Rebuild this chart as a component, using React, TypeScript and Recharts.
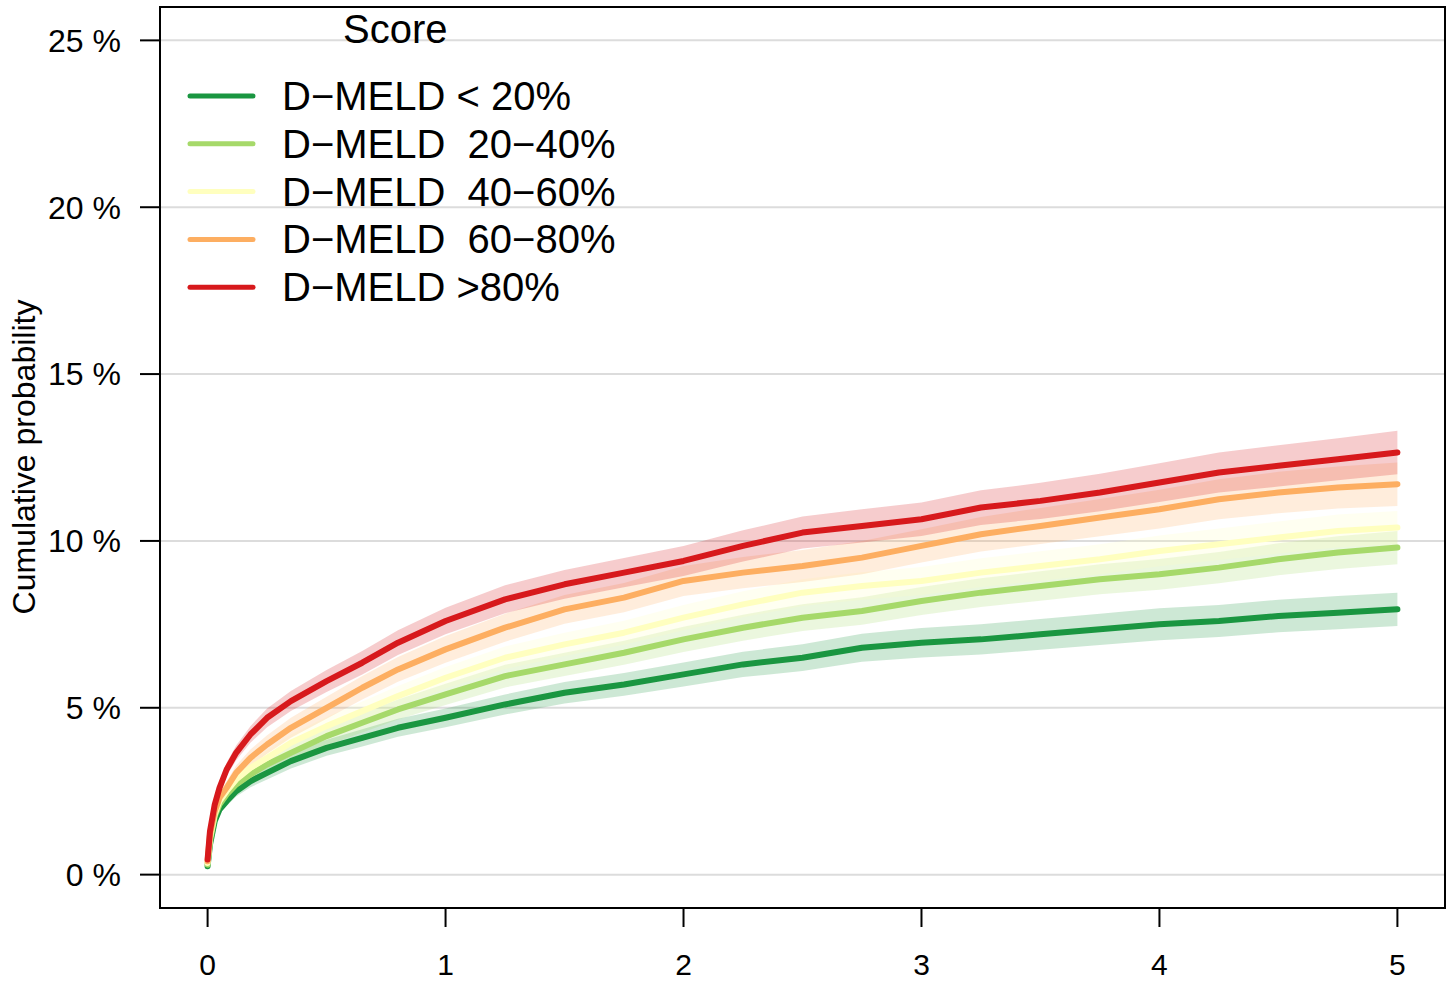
import React from 'react';
import {
  ComposedChart,
  Line,
  Area,
  XAxis,
  YAxis,
  CartesianGrid,
  ReferenceArea,
} from 'recharts';

// ---- data ----
const times = [0, 0.01, 0.03, 0.05, 0.08, 0.12, 0.18, 0.25, 0.35, 0.5, 0.65, 0.8, 1.0, 1.25, 1.5, 1.75, 2.0, 2.25, 2.5, 2.75, 3.0, 3.25, 3.5, 3.75, 4.0, 4.25, 4.5, 4.75, 5.0];

const lt20 = [0.25, 0.9, 1.6, 1.95, 2.2, 2.5, 2.8, 3.05, 3.4, 3.8, 4.1, 4.4, 4.7, 5.1, 5.45, 5.7, 6.0, 6.3, 6.5, 6.8, 6.95, 7.05, 7.2, 7.35, 7.5, 7.6, 7.75, 7.85, 7.95];
const lt20Lo = [0.25, 0.83, 1.5, 1.83, 2.06, 2.34, 2.62, 2.85, 3.18, 3.56, 3.84, 4.13, 4.42, 4.8, 5.13, 5.36, 5.64, 5.92, 6.1, 6.38, 6.51, 6.6, 6.74, 6.88, 7.02, 7.12, 7.26, 7.35, 7.45];
const lt20Hi = [0.25, 0.97, 1.7, 2.07, 2.34, 2.66, 2.98, 3.25, 3.62, 4.04, 4.36, 4.67, 4.98, 5.4, 5.77, 6.04, 6.36, 6.68, 6.9, 7.22, 7.39, 7.5, 7.66, 7.82, 7.98, 8.08, 8.24, 8.35, 8.45];

const r2040 = [0.3, 1.0, 1.75, 2.1, 2.4, 2.7, 3.0, 3.3, 3.65, 4.15, 4.55, 4.95, 5.4, 5.95, 6.3, 6.65, 7.05, 7.4, 7.7, 7.9, 8.2, 8.45, 8.65, 8.85, 9.0, 9.2, 9.45, 9.65, 9.8];
const r2040Lo = [0.3, 0.92, 1.63, 1.95, 2.23, 2.51, 2.79, 3.07, 3.4, 3.88, 4.26, 4.65, 5.08, 5.61, 5.95, 6.29, 6.67, 7.01, 7.3, 7.49, 7.78, 8.02, 8.21, 8.4, 8.54, 8.73, 8.97, 9.16, 9.3];
const r2040Hi = [0.3, 1.08, 1.87, 2.25, 2.57, 2.89, 3.21, 3.53, 3.9, 4.42, 4.84, 5.25, 5.72, 6.29, 6.65, 7.01, 7.43, 7.79, 8.1, 8.31, 8.62, 8.88, 9.09, 9.3, 9.46, 9.67, 9.93, 10.14, 10.3];

const r4060 = [0.35, 1.1, 1.8, 2.2, 2.5, 2.85, 3.2, 3.5, 3.95, 4.45, 4.9, 5.35, 5.9, 6.5, 6.9, 7.25, 7.7, 8.1, 8.45, 8.65, 8.8, 9.05, 9.25, 9.45, 9.7, 9.9, 10.1, 10.3, 10.4];
const r4060Lo = [0.35, 1.02, 1.68, 2.05, 2.33, 2.66, 2.99, 3.27, 3.7, 4.18, 4.61, 5.05, 5.58, 6.16, 6.55, 6.89, 7.32, 7.71, 8.05, 8.24, 8.38, 8.62, 8.81, 9.0, 9.24, 9.43, 9.62, 9.81, 9.9];
const r4060Hi = [0.35, 1.18, 1.92, 2.35, 2.67, 3.04, 3.41, 3.73, 4.2, 4.72, 5.19, 5.65, 6.22, 6.84, 7.25, 7.61, 8.08, 8.49, 8.85, 9.06, 9.22, 9.48, 9.69, 9.9, 10.16, 10.37, 10.58, 10.79, 10.9];

const r6080 = [0.4, 1.2, 1.9, 2.3, 2.6, 3.05, 3.5, 3.9, 4.4, 5.0, 5.6, 6.15, 6.75, 7.4, 7.95, 8.3, 8.8, 9.05, 9.25, 9.5, 9.85, 10.2, 10.45, 10.7, 10.95, 11.25, 11.45, 11.6, 11.7];
const r6080Lo = [0.4, 1.1, 1.75, 2.12, 2.4, 2.83, 3.25, 3.62, 4.1, 4.67, 5.25, 5.78, 6.35, 6.98, 7.52, 7.86, 8.35, 8.58, 8.77, 9.0, 9.35, 9.68, 9.91, 10.14, 10.37, 10.65, 10.83, 10.97, 11.05];
const r6080Hi = [0.4, 1.3, 2.05, 2.48, 2.8, 3.27, 3.75, 4.18, 4.7, 5.33, 5.95, 6.52, 7.15, 7.82, 8.38, 8.74, 9.25, 9.52, 9.73, 10.0, 10.35, 10.72, 10.99, 11.26, 11.53, 11.85, 12.07, 12.23, 12.35];

const gt80 = [0.45, 1.3, 2.1, 2.6, 3.15, 3.65, 4.2, 4.7, 5.2, 5.8, 6.35, 6.95, 7.6, 8.25, 8.7, 9.05, 9.4, 9.85, 10.25, 10.45, 10.65, 11.0, 11.2, 11.45, 11.75, 12.05, 12.25, 12.45, 12.65];
const gt80Lo = [0.45, 1.2, 1.95, 2.42, 2.95, 3.43, 3.95, 4.42, 4.9, 5.47, 6.0, 6.58, 7.2, 7.83, 8.27, 8.61, 8.95, 9.38, 9.77, 9.95, 10.15, 10.48, 10.66, 10.89, 11.17, 11.45, 11.63, 11.82, 12.0];
const gt80Hi = [0.45, 1.4, 2.25, 2.78, 3.35, 3.87, 4.45, 4.98, 5.5, 6.13, 6.7, 7.32, 8.0, 8.67, 9.13, 9.49, 9.85, 10.32, 10.73, 10.95, 11.15, 11.52, 11.74, 12.01, 12.33, 12.65, 12.87, 13.08, 13.3];

const seriesNames = ['D\u2212MELD < 20%', 'D\u2212MELD  20\u221240%', 'D\u2212MELD  40\u221260%', 'D\u2212MELD  60\u221280%', 'D\u2212MELD >80%'];
const seriesColors = ['#1A9641', '#A6D96A', '#FFFFBF', '#FDAE61', '#D7191C'];
const xTicks = [0, 1, 2, 3, 4, 5];
const yTicks = [0, 5, 10, 15, 20, 25];
const legendTitle = 'Score';
const yLabel = 'Cumulative probability';

const seriesValues = [lt20, r2040, r4060, r6080, gt80];
const seriesLo = [lt20Lo, r2040Lo, r4060Lo, r6080Lo, gt80Lo];
const seriesHi = [lt20Hi, r2040Hi, r4060Hi, r6080Hi, gt80Hi];

const rows = times.map((t, i) => {
  const row: Record<string, any> = { t };
  seriesValues.forEach((vals, s) => {
    row['s' + s] = vals[i];
    row['b' + s] = [seriesLo[s][i], seriesHi[s][i]];
  });
  return row;
});

const FONT = '"Liberation Sans", Arial, Helvetica, sans-serif';
const W = 1455;
const H = 983;

export default function App() {
  return (
    <div style={{ position: 'absolute', left: 0, top: 0, width: W, height: H, fontFamily: FONT, background: '#fff' }}>
      <ComposedChart
        width={W}
        height={H}
        data={rows}
        margin={{ top: 7, right: 10, bottom: 0, left: 0 }}
      >
        <CartesianGrid horizontal vertical={false} stroke="#dcdcdc" strokeWidth={2} />
        <XAxis
          dataKey="t"
          type="number"
          domain={[-0.2, 5.2]}
          ticks={xTicks}
          allowDataOverflow
          height={75}
          axisLine={false}
          tickSize={19}
          tickMargin={27}
          tickLine={{ stroke: '#000', strokeWidth: 2 }}
          tick={{ fill: '#000', fontSize: 30, fontFamily: FONT }}
          interval={0}
        />
        <YAxis
          type="number"
          domain={[-1, 26]}
          ticks={yTicks}
          allowDataOverflow
          width={160}
          axisLine={false}
          tickSize={20}
          tickMargin={19}
          tickLine={{ stroke: '#000', strokeWidth: 2 }}
          tick={{ fill: '#000', fontSize: 32, fontFamily: FONT }}
          tickFormatter={(v: number) => `${v} %`}
          interval={0}
        />
        {seriesColors.map((c, s) => (
          <Area
            key={'band' + s}
            type="linear"
            dataKey={'b' + s}
            stroke="none"
            fill={c}
            fillOpacity={0.22}
            isAnimationActive={false}
            dot={false}
            activeDot={false}
          />
        ))}
        {seriesColors.map((c, s) => (
          <Line
            key={'line' + s}
            type="linear"
            dataKey={'s' + s}
            stroke={c}
            strokeWidth={6}
            strokeLinecap="round"
            strokeLinejoin="round"
            dot={false}
            activeDot={false}
            isAnimationActive={false}
          />
        ))}
        <ReferenceArea
          x1={-0.2}
          x2={5.2}
          y1={-1}
          y2={26}
          fill="none"
          stroke="#000"
          strokeWidth={2}
          ifOverflow="visible"
        />
      </ComposedChart>
      <svg
        width={W}
        height={H}
        style={{ position: 'absolute', left: 0, top: 0, pointerEvents: 'none', fontFamily: FONT }}
      >
        <text x={35} y={457} textAnchor="middle" fontSize={32} fill="#000" transform="rotate(-90 35 457)">
          {yLabel}
        </text>
        <text x={343} y={43} fontSize={40} fill="#000">
          {legendTitle}
        </text>
        {seriesNames.map((name, i) => {
          const y = 96 + i * 47.8;
          return (
            <g key={name}>
              <line x1={190} x2={253} y1={y} y2={y} stroke={seriesColors[i]} strokeWidth={5} strokeLinecap="round" />
              <text x={282} y={y + 14} fontSize={40} fill="#000" style={{ whiteSpace: 'pre' }}>
                {name}
              </text>
            </g>
          );
        })}
      </svg>
    </div>
  );
}
